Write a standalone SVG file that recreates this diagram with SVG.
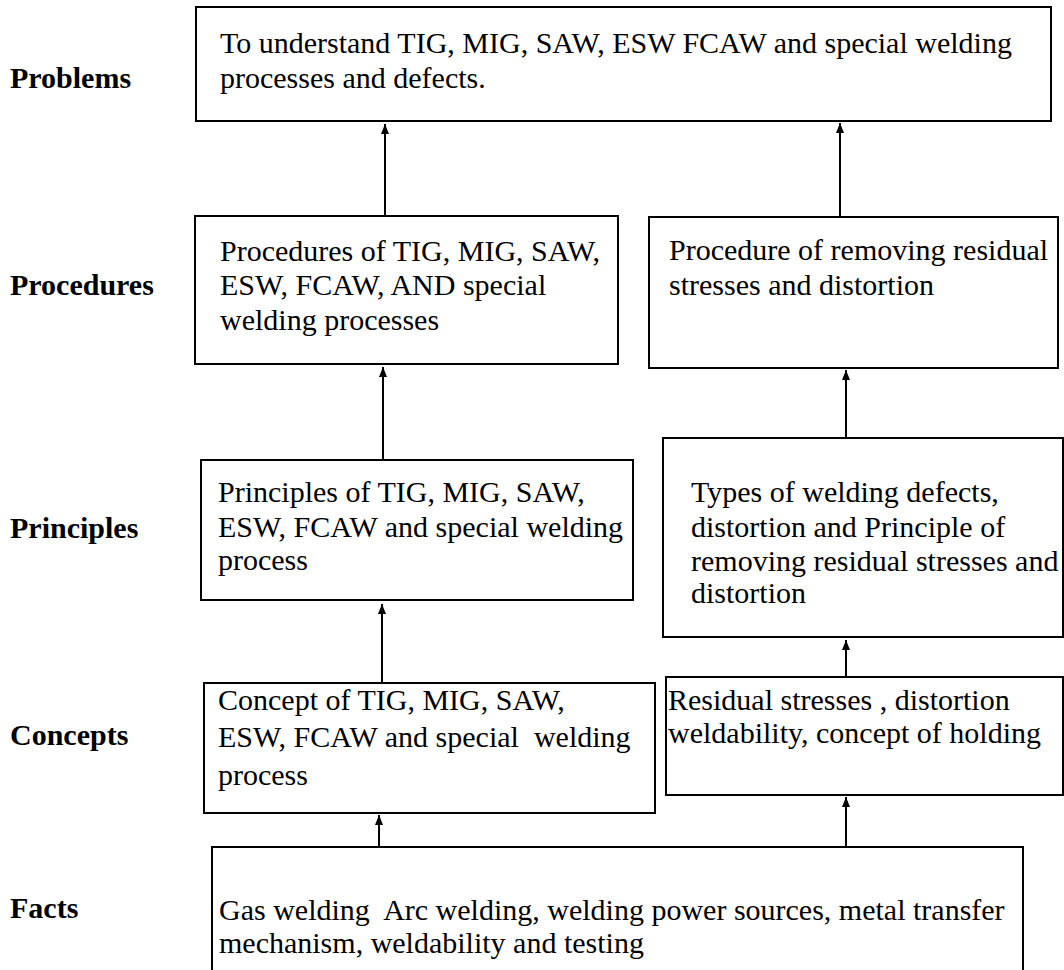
<svg xmlns="http://www.w3.org/2000/svg" width="1064" height="970" viewBox="0 0 1064 970">
<style>
.box{fill:#fff;stroke:#000;stroke-width:2}
.t{font-family:"Liberation Serif","Times New Roman",serif;font-size:30px;fill:#000}
.lbl{font-family:"Liberation Serif","Times New Roman",serif;font-size:30px;font-weight:bold;fill:#000}
.conn{stroke:#000;stroke-width:2;fill:none}
</style>
<defs>
<marker id="ah" markerUnits="userSpaceOnUse" markerWidth="10" markerHeight="12" refX="10" refY="4" orient="auto">
<path d="M0,0 L10,4 L0,8 z" fill="#000"/>
</marker>
</defs>
<rect width="1064" height="970" fill="#fff"/>
<g id="labels">
<text class="lbl" x="10" y="88">Problems</text>
<text class="lbl" x="10" y="295">Procedures</text>
<text class="lbl" x="10" y="538">Principles</text>
<text class="lbl" x="10" y="745">Concepts</text>
<text class="lbl" x="10" y="918">Facts</text>
</g>
<g id="problems">
<rect class="box" x="196" y="7" width="855" height="114"/>
<text class="t" x="220" y="53">To understand TIG, MIG, SAW, ESW FCAW and special welding</text>
<text class="t" x="220" y="88">processes and defects.</text>
</g>
<g id="procedures-left">
<rect class="box" x="195" y="216" width="423" height="148"/>
<text class="t" x="220" y="261">Procedures of TIG, MIG, SAW,</text>
<text class="t" x="220" y="295">ESW, FCAW, AND special</text>
<text class="t" x="220" y="330">welding processes</text>
</g>
<g id="procedures-right">
<rect class="box" x="649" y="217" width="409" height="151"/>
<text class="t" x="669" y="260">Procedure of removing residual</text>
<text class="t" x="669" y="295">stresses and distortion</text>
</g>
<g id="principles-left">
<rect class="box" x="201" y="460" width="432" height="140"/>
<text class="t" x="218" y="502">Principles of TIG, MIG, SAW,</text>
<text class="t" x="218" y="537">ESW, FCAW and special welding</text>
<text class="t" x="218" y="570">process</text>
</g>
<g id="principles-right">
<rect class="box" x="663" y="438" width="400" height="199"/>
<text class="t" x="691" y="502">Types of welding defects,</text>
<text class="t" x="691" y="537">distortion and Principle of</text>
<text class="t" x="691" y="571">removing residual stresses and</text>
<text class="t" x="691" y="603">distortion</text>
</g>
<g id="concepts-left">
<rect class="box" x="204" y="683" width="451" height="130"/>
<text class="t" x="218" y="710">Concept of TIG, MIG, SAW,</text>
<text class="t" x="218" y="747" xml:space="preserve">ESW, FCAW and special  welding</text>
<text class="t" x="218" y="785">process</text>
</g>
<g id="concepts-right">
<rect class="box" x="666" y="677" width="397" height="118"/>
<text class="t" x="668" y="710">Residual stresses , distortion</text>
<text class="t" x="668" y="743">weldability, concept of holding</text>
</g>
<g id="facts">
<rect class="box" x="212" y="847" width="811" height="130"/>
<text class="t" x="219" y="920" xml:space="preserve">Gas welding  Arc welding, welding power sources, metal transfer</text>
<text class="t" x="219" y="953">mechanism, weldability and testing</text>
</g>
<g id="connectors">
<line class="conn" x1="385" y1="215" x2="385" y2="124" marker-end="url(#ah)"/>
<line class="conn" x1="840" y1="216" x2="840" y2="123" marker-end="url(#ah)"/>
<line class="conn" x1="383" y1="459" x2="383" y2="367" marker-end="url(#ah)"/>
<line class="conn" x1="846" y1="437" x2="846" y2="370" marker-end="url(#ah)"/>
<line class="conn" x1="382" y1="682" x2="382" y2="604" marker-end="url(#ah)"/>
<line class="conn" x1="846" y1="676" x2="846" y2="640" marker-end="url(#ah)"/>
<line class="conn" x1="379" y1="846" x2="379" y2="815" marker-end="url(#ah)"/>
<line class="conn" x1="846" y1="846" x2="846" y2="797" marker-end="url(#ah)"/>
</g>
</svg>
